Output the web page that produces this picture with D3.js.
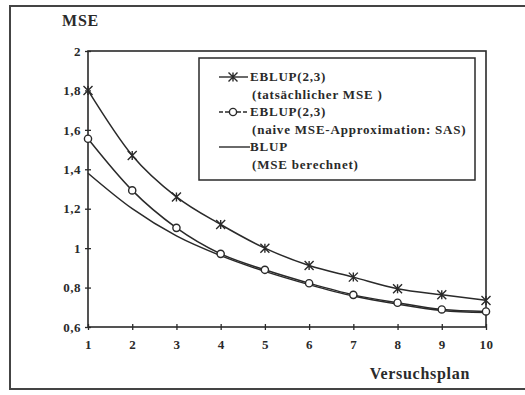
<!DOCTYPE html>
<html>
<head>
<meta charset="utf-8">
<script src="https://cdn.jsdelivr.net/npm/d3@7"></script>
<style>
  html, body { margin: 0; padding: 0; background: #fff; }
  svg { display: block; }
  text { font-family: "Liberation Serif", "DejaVu Serif", serif; font-weight: bold; fill: #2a2a2a; }
</style>
</head>
<body>
<script>
// Versuchspläne 1..10
const plans = [1, 2, 3, 4, 5, 6, 7, 8, 9, 10];
// EBLUP(2,3), tatsächlicher MSE
const eblupTrue = [1.80, 1.47, 1.26, 1.12, 1.00, 0.912, 0.853, 0.794, 0.763, 0.735];
// EBLUP(2,3), naive MSE-Approximation (SAS)
const eblupNaive = [1.555, 1.293, 1.103, 0.971, 0.89, 0.822, 0.763, 0.723, 0.689, 0.679];
// BLUP, MSE berechnet
const blup = [1.38, 1.20, 1.062, 0.962, 0.882, 0.815, 0.757, 0.716, 0.684, 0.673];

const yTicks = [0.6, 0.8, 1, 1.2, 1.4, 1.6, 1.8, 2];
const legendItems = [
  { key: "true",  line1: "EBLUP(2,3)", line2: "(tatsächlicher MSE )" },
  { key: "naive", line1: "EBLUP(2,3)", line2: "(naive MSE-Approximation: SAS)" },
  { key: "blup",  line1: "BLUP",       line2: "(MSE berechnet)" }
];

const W = 525, H = 395;
const ink = "#2a2a2a";
const margin = { left: 88, top: 51, right: 39, bottom: 68 };

const svg = d3.select("body").append("svg").attr("width", W).attr("height", H);

// outer frame (open on the right)
svg.append("path")
  .attr("d", "M525,6 H10 V389 H525")
  .attr("fill", "none").attr("stroke", "#444").attr("stroke-width", 2);

const x = d3.scaleLinear().domain([1, 10]).range([margin.left, W - margin.right]);
const y = d3.scaleLinear().domain([0.6, 2]).range([H - margin.bottom, margin.top]);

// plot frame
svg.append("rect")
  .attr("x", x(1)).attr("y", y(2))
  .attr("width", x(10) - x(1)).attr("height", y(0.6) - y(2))
  .attr("fill", "none").attr("stroke", ink).attr("stroke-width", 1.6);

const styleTick = sel => sel
  .attr("font-size", 13)
  .style("font-family", "Liberation Serif, serif")
  .style("font-weight", "bold")
  .style("letter-spacing", "0.5px")
  .attr("fill", ink);

// y axis: tick crosses on the left border
const fmt = d => String(d).replace(".", ",");
const yAxis = svg.append("g").attr("transform", `translate(${x(1)},0)`)
  .call(d3.axisLeft(y).tickValues(yTicks).tickFormat(fmt).tickSize(3).tickPadding(4));
yAxis.select(".domain").remove();
yAxis.selectAll(".tick line").attr("x2", 3).attr("x1", -3).attr("stroke", ink).attr("stroke-width", 1.3);
styleTick(yAxis.selectAll(".tick text"));

// x axis: tick crosses on the bottom border
const xAxis = svg.append("g").attr("transform", `translate(0,${y(0.6)})`)
  .call(d3.axisBottom(x).tickValues(plans).tickFormat(d3.format("d")).tickSize(3).tickPadding(10));
xAxis.select(".domain").remove();
xAxis.selectAll(".tick line").attr("y1", -3).attr("y2", 3).attr("stroke", ink).attr("stroke-width", 1.3);
styleTick(xAxis.selectAll(".tick text"));

// axis titles
svg.append("text").attr("x", 62).attr("y", 26).attr("font-size", 16)
  .style("letter-spacing", "0.8px").text("MSE");
svg.append("text").attr("x", 470).attr("y", 379).attr("text-anchor", "end")
  .attr("font-size", 16).style("letter-spacing", "0.7px").text("Versuchsplan");

// curves
const line = d3.line().x((d, i) => x(plans[i])).y(d => y(d)).curve(d3.curveMonotoneX);
[blup, eblupNaive, eblupTrue].forEach(s => {
  svg.append("path").attr("d", line(s))
    .attr("fill", "none").attr("stroke", ink).attr("stroke-width", 1.5);
});

// markers
function cross(g, cx, cy) {
  const r = 4.5;
  g.append("path")
    .attr("d", `M${cx - r},${cy - r}L${cx + r},${cy + r}M${cx - r},${cy + r}L${cx + r},${cy - r}M${cx},${cy - r}L${cx},${cy + r}`)
    .attr("stroke", ink).attr("stroke-width", 1.4).attr("fill", "none");
}
function ring(g, cx, cy) {
  g.append("circle").attr("cx", cx).attr("cy", cy).attr("r", 3.6)
    .attr("fill", "#fff").attr("stroke", ink).attr("stroke-width", 1.4);
}
const mk = svg.append("g");
eblupTrue.forEach((v, i) => cross(mk, x(plans[i]), y(v)));
eblupNaive.forEach((v, i) => ring(mk, x(plans[i]), y(v)));

// legend
const lg = svg.append("g");
lg.append("rect").attr("x", 199).attr("y", 58).attr("width", 276).attr("height", 122)
  .attr("fill", "#fff").attr("stroke", ink).attr("stroke-width", 1.5);
legendItems.forEach((it, i) => {
  const cy = 77 + i * 35;
  if (it.key === "naive") {
    lg.append("line").attr("x1", 219).attr("x2", 248).attr("y1", cy).attr("y2", cy)
      .attr("stroke", ink).attr("stroke-width", 1.4).attr("stroke-dasharray", "4,2");
    ring(lg, 233, cy);
  } else if (it.key === "true") {
    lg.append("line").attr("x1", 219).attr("x2", 248).attr("y1", cy).attr("y2", cy)
      .attr("stroke", ink).attr("stroke-width", 1.4);
    cross(lg, 233, cy);
  } else {
    lg.append("line").attr("x1", 219).attr("x2", 250).attr("y1", cy).attr("y2", cy)
      .attr("stroke", ink).attr("stroke-width", 1.4);
  }
  lg.append("text").attr("x", 250).attr("y", cy + 4).attr("font-size", 13)
    .style("letter-spacing", "0.8px").text(it.line1);
  lg.append("text").attr("x", 252).attr("y", cy + 22).attr("font-size", 13)
    .style("letter-spacing", "0.8px").text(it.line2);
});
</script>
</body>
</html>
